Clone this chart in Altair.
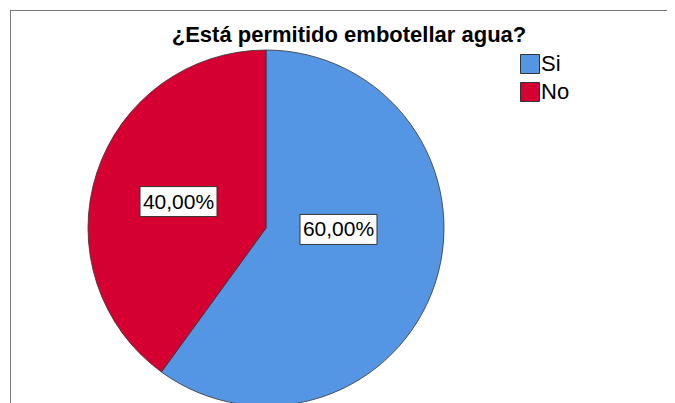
import altair as alt
import pandas as pd

# ---- data ----
categories = ["Si", "No"]
percentages = [60.0, 40.0]
colors = ["#5596E4", "#D50031"]
title_text = "¿Está permitido embotellar agua?"

labels = [f"{v:.2f}".replace(".", ",") + "%" for v in percentages]
df = pd.DataFrame({
    "cat": categories,
    "pct": percentages,
    "idx": list(range(len(categories))),
    "label": labels,
})

# ---- style / layout constants ----
W, H = 659, 395
CX, CY, R = 258, 220, 178
LR = 92          # label radius
BW, BH = 77, 30  # label box size
FONT = "Liberation Sans"

base = alt.Chart(df)

pie = base.mark_arc(outerRadius=R, stroke="#333333", strokeWidth=0.8).encode(
    theta=alt.Theta("pct:Q", stack=True),
    order=alt.Order("idx:Q"),
    color=alt.Color(
        "cat:N",
        scale=alt.Scale(domain=categories, range=colors),
        legend=alt.Legend(
            orient="none", legendX=511, legendY=45, title=None,
            symbolType="square", symbolSize=361, symbolStrokeColor="#333333",
            symbolStrokeWidth=1, symbolOpacity=1,
            labelFont=FONT, labelFontSize=22, labelColor="#000000",
            labelOffset=0, rowPadding=4, padding=0,
        ),
    ),
    x=alt.value(CX), y=alt.value(CY),
)

lab = base.transform_joinaggregate(total="sum(pct)").transform_window(
    cum="sum(pct)", sort=[alt.SortField("idx")], frame=[None, 0]
).transform_calculate(
    mid="(datum.cum - datum.pct/2) / datum.total * 2 * PI",
).transform_calculate(
    lx=f"{CX} + {LR} * sin(datum.mid)",
    ly=f"{CY} - {LR} * cos(datum.mid)",
).transform_calculate(
    bx1=f"datum.lx - {BW/2}", bx2=f"datum.lx + {BW/2}",
    by1=f"datum.ly - {BH/2}", by2=f"datum.ly + {BH/2}",
)

def label_layer(cat, dx, dy):
    sub = lab.transform_filter(alt.datum.cat == cat)
    box = sub.mark_rect(fill="white", stroke="#333333", strokeWidth=1,
                        xOffset=dx, yOffset=dy, x2Offset=dx, y2Offset=dy).encode(
        x=alt.X("bx1:Q", scale=None), x2="bx2:Q",
        y=alt.Y("by1:Q", scale=None), y2="by2:Q",
    )
    txt = sub.mark_text(font=FONT, fontSize=21, color="black", baseline="middle",
                        align="center", dx=dx, dy=dy + 1).encode(
        x=alt.X("lx:Q", scale=None), y=alt.Y("ly:Q", scale=None), text="label:N",
    )
    return box + txt

lab_si = label_layer("Si", -15, -27)
lab_no = label_layer("No", 0, 2)

title = alt.Chart(pd.DataFrame({"t": [title_text]})).mark_text(
    font=FONT, fontSize=22, fontWeight="bold", color="black",
    align="center", baseline="alphabetic",
).encode(text="t:N", x=alt.value(341), y=alt.value(34))

frame_top = alt.Chart(pd.DataFrame({"a": [0]})).mark_rule(color="#777777", strokeWidth=1).encode(
    x=alt.value(2), x2=alt.value(W + 10), y=alt.value(2.5)
)
frame_left = alt.Chart(pd.DataFrame({"a": [0]})).mark_rule(color="#777777", strokeWidth=1).encode(
    x=alt.value(2.5), y=alt.value(2), y2=alt.value(H + 10)
)

chart = alt.layer(frame_top, frame_left, pie, lab_si, lab_no, title).properties(
    width=W, height=H, autosize=alt.AutoSizeParams(type="none"), padding=0,
    background="white",
).configure_view(stroke=None)

chart.save("out.html", embed_options={"renderer": "svg", "actions": False})
